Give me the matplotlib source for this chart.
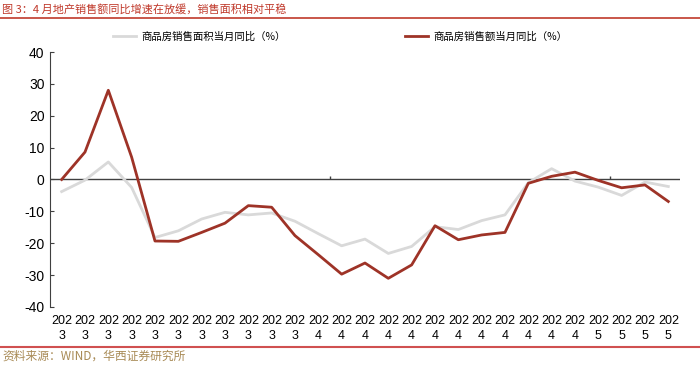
import matplotlib
matplotlib.use('Agg')
import matplotlib.pyplot as plt
import numpy as np

plt.rcParams['font.family'] = ['Liberation Sans', 'Noto Sans CJK SC', 'DejaVu Sans']
plt.rcParams['axes.unicode_minus'] = False

# 月度：2023 x11, 2024 x12, 2025 x4
years = ['2023'] * 11 + ['2024'] * 12 + ['2025'] * 4
area_yoy = [-3.8, -0.2, 5.5, -2.5, -18.2, -16.1, -12.4, -10.3, -11.1, -10.5, -13.1,
            -17.0, -20.8, -18.7, -23.2, -21.0, -14.8, -15.7, -12.9, -11.1, -1.0,
            3.4, -0.5, -2.4, -5.0, -0.8, -2.2]
sales_yoy = [0.0, 8.6, 28.0, 7.0, -19.3, -19.4, -16.6, -13.7, -8.2, -8.7, -17.6,
             -23.6, -29.7, -26.2, -31.0, -26.8, -14.5, -18.9, -17.4, -16.6, -1.2,
             1.0, 2.3, -0.3, -2.6, -1.7, -6.9]
tick_labels = [y[:3] + '\n' + y[3] for y in years]

x = np.arange(len(years))
red = '#9E3327'
gray = '#D9D9D9'
cjk = ['Noto Sans CJK SC', 'DejaVu Sans']

fig = plt.figure(figsize=(7, 3.67), dpi=100)
ax = fig.add_axes([0.0714, 0.1635, 0.9, 0.6948])

ax.plot(x, area_yoy, color=gray, lw=2, label='商品房销售面积当月同比（%）')
ax.plot(x, sales_yoy, color=red, lw=2, label='商品房销售额当月同比（%）')

ax.set_xlim(-0.5, len(x) - 0.5)
ax.set_ylim(-40, 40)
ax.set_yticks(np.arange(-40, 41, 10))
ax.set_xticks(x)
ax.set_xticklabels(tick_labels, fontsize=9, linespacing=1.3)
ax.tick_params(axis='x', length=0, pad=6)
ax.tick_params(axis='y', direction='in', length=3, labelsize=10, color='#404040', pad=4)

for s in ['top', 'right', 'bottom']:
    ax.spines[s].set_visible(False)
ax.spines['left'].set_color('#404040')
ax.axhline(0, color='#404040', lw=1, zorder=1)
# 年份分隔小刻度
ax.vlines(np.arange(11.5, len(x), 12), 0, 1.2, color='#404040', lw=1)

# 图例
h1, h2 = ax.get_legend_handles_labels()[0]
fig.legend([h1], [h1.get_label()], loc='center left', bbox_to_anchor=(0.148, 0.9),
           frameon=False, prop={'family': cjk, 'size': 7.5}, handlelength=2.2, handletextpad=0.5)
fig.legend([h2], [h2.get_label()], loc='center left', bbox_to_anchor=(0.565, 0.9),
           frameon=False, prop={'family': cjk, 'size': 7.5}, handlelength=2.2, handletextpad=0.5)

# 标题与来源
fig.text(0.003, 0.975, '图 3：4 月地产销售额同比增速在放缓，销售面积相对平稳',
         color='#C0392B', fontsize=8, family=cjk, va='center', ha='left')
fig.add_artist(plt.Line2D([0, 1], [0.952, 0.952], color='#C0392B', lw=1.2))
fig.add_artist(plt.Line2D([0, 1], [0.055, 0.055], color='#D05050', lw=1.5))
fig.text(0.003, 0.03, '资料来源：WIND，华西证券研究所', color='#A88A55', fontsize=8.5,
         family=cjk, va='center', ha='left')

fig.savefig('out.png', dpi=100)
